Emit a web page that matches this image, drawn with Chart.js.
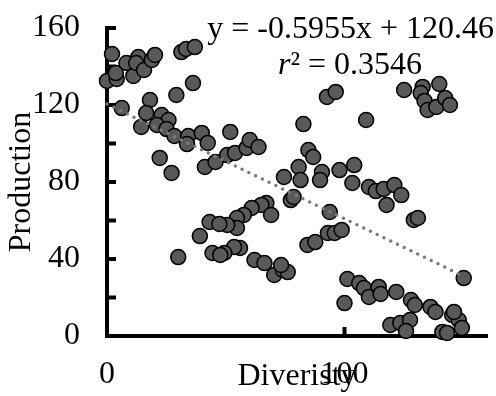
<!DOCTYPE html>
<html>
<head>
<meta charset="utf-8">
<script src="https://cdn.jsdelivr.net/npm/chart.js@4"></script>
<style>
  html, body { margin: 0; background: #fff; }
</style>
</head>
<body>
<canvas id="chart" width="496" height="396"></canvas>
<script>
// Datos
const diversity = [
  2.1, 0.0, 4.1, 3.7, 8.2, 11.1, 13.2, 12.3, 15.6, 18.9,
  20.2, 31.3, 33.3, 37.0, 36.2, 29.2, 18.1, 6.2, 16.5, 14.4,
  23.0, 25.9, 21.0, 25.1, 28.4, 34.2, 33.7, 39.9, 42.4, 22.2,
  27.2, 41.2, 45.7, 50.6, 53.9, 51.9, 58.8, 60.1, 63.8, 82.7,
  92.6, 96.3, 109.1, 125.1, 132.9, 132.1, 139.9, 133.7, 135.0, 138.7,
  142.4, 144.4, 104.1, 84.8, 86.8, 90.5, 97.9, 80.7, 74.5, 81.5,
  89.7, 103.3, 110.3, 113.2, 116.5, 121.0, 123.9, 117.7, 129.2, 130.9,
  150.2, 101.2, 106.2, 108.2, 110.3, 100.0, 114.4, 115.2, 121.8, 128.0,
  129.6, 136.2, 138.3, 145.3, 148.1, 149.4, 119.3, 123.5, 127.6, 125.9,
  141.2, 143.2, 146.1, 77.4, 78.6, 93.8, 84.4, 87.7, 93.0, 95.9,
  98.8, 67.1, 65.0, 60.9, 57.6, 69.1, 54.7, 54.7, 50.6, 56.0,
  53.5, 49.4, 62.1, 66.3, 70.4, 74.1, 76.1, 73.3, 43.2, 47.3,
  39.1, 30.0, 44.4, 47.7,
];
const production = [
  146.5, 132.5, 133.5, 136.6, 141.8, 135.1, 144.9, 141.8, 138.2, 143.4,
  146.0, 147.5, 149.1, 150.1, 131.4, 125.2, 122.6, 118.4, 115.8, 108.6,
  114.8, 112.2, 109.6, 107.5, 103.9, 103.9, 99.7, 105.5, 100.3, 92.5,
  84.7, 87.8, 90.4, 94.0, 95.1, 106.0, 97.7, 101.8, 98.2, 110.1,
  124.2, 126.8, 112.2, 127.8, 129.4, 126.2, 130.9, 122.1, 117.4, 119.0,
  123.6, 120.0, 88.8, 96.6, 93.0, 85.2, 86.2, 87.8, 82.6, 81.0,
  81.0, 79.5, 77.4, 75.3, 76.4, 78.4, 73.2, 68.1, 60.3, 61.3,
  30.1, 29.6, 27.5, 24.9, 20.3, 17.1, 25.5, 21.8, 22.9, 18.7,
  16.1, 15.1, 12.5, 10.9, 8.3, 4.2, 5.7, 6.8, 8.3, 2.6,
  2.1, 1.6, 12.5, 70.6, 72.2, 64.4, 47.3, 48.8, 53.5, 53.5,
  55.1, 69.1, 68.1, 66.5, 62.9, 62.9, 61.3, 56.1, 57.7, 45.7,
  46.2, 43.1, 39.5, 37.9, 31.7, 34.3, 33.2, 36.9, 59.2, 58.2,
  51.9, 41.0, 43.1, 42.1,
];

// Línea de tendencia (y = -0.5955x + 120.46)
const slope = -0.5955;
const intercept = 120.46;
const trendX = [0, 150.2];

const xTicks = [0, 100];
const yTicks = [0, 20, 40, 60, 80, 100, 120, 140, 160];

const font = "'Liberation Serif', 'Times New Roman', serif";
const fontSize = 32;

const points = diversity.map((x, i) => ({ x, y: production[i] }));
const trend = trendX.map((x) => ({ x, y: slope * x + intercept }));

// Marcas hacia dentro y texto de la ecuación
const decor = {
  id: "decor",
  beforeDatasetsDraw(chart) {
    const { ctx, chartArea, scales } = chart;
    ctx.save();
    ctx.strokeStyle = "#000";
    ctx.lineWidth = 4;
    ctx.lineCap = "butt";
    yTicks.forEach((v) => {
      if (v === 0) return;
      const py = scales.y.getPixelForValue(v);
      ctx.beginPath();
      ctx.moveTo(chartArea.left, py);
      ctx.lineTo(chartArea.left + 9, py);
      ctx.stroke();
    });
    xTicks.forEach((v) => {
      if (v === 0) return;
      const px = scales.x.getPixelForValue(v);
      ctx.beginPath();
      ctx.moveTo(px, chartArea.bottom);
      ctx.lineTo(px, chartArea.bottom - 9);
      ctx.stroke();
    });
    ctx.restore();
  },
  afterDraw(chart) {
    const ctx = chart.ctx;
    ctx.save();
    ctx.fillStyle = "#000";
    ctx.textBaseline = "alphabetic";
    ctx.font = fontSize + "px " + font;
    ctx.textAlign = "right";
    ctx.fillText("y = -0.5955x + 120.46", 494, 38);

    // r² con la r en cursiva
    ctx.textAlign = "left";
    ctx.font = "italic " + fontSize + "px " + font;
    const wr = ctx.measureText("r").width;
    ctx.font = fontSize + "px " + font;
    const rest = "² = 0.3546";
    const wRest = ctx.measureText(rest).width;
    const x0 = 350 - (wr + wRest) / 2;
    ctx.font = "italic " + fontSize + "px " + font;
    ctx.fillText("r", x0, 74);
    ctx.font = fontSize + "px " + font;
    ctx.fillText(rest, x0 + wr, 74);
    ctx.restore();
  },
};

const config = {
  type: "scatter",
  data: {
    datasets: [
      {
        type: "line",
        data: trend,
        borderColor: "#7a7a7a",
        borderWidth: 3.5,
        borderDash: [0, 7.5],
        borderCapStyle: "round",
        pointRadius: 0,
        fill: false,
        clip: false,
      },
      {
        data: points,
        backgroundColor: "#595959",
        borderColor: "#000",
        borderWidth: 1.5,
        pointRadius: 7.5,
        clip: false,
      },
    ],
  },
  options: {
    responsive: false,
    animation: false,
    layout: { padding: { top: 28, right: 0, left: 0, bottom: 0 } },
    plugins: {
      legend: { display: false },
      tooltip: { enabled: false },
    },
    scales: {
      x: {
        type: "linear",
        min: 0,
        max: 160,
        grid: { display: false },
        border: { color: "#000", width: 4 },
        ticks: {
          stepSize: 100,
          includeBounds: false,
          color: "#000",
          padding: 11,
          font: { family: font, size: fontSize },
        },
        title: {
          display: true,
          text: "Diveristy",
          color: "#000",
          font: { family: font, size: fontSize },
          padding: { top: 0, bottom: 0 },
        },
        afterFit(scale) {
          scale.height = 60;
          scale.paddingLeft = 0;
          scale.paddingRight = 0;
        },
      },
      y: {
        type: "linear",
        min: 0,
        max: 160,
        grid: { display: false },
        border: { color: "#000", width: 4 },
        ticks: {
          stepSize: 20,
          color: "#000",
          padding: 19,
          font: { family: font, size: fontSize },
        },
        title: {
          display: true,
          text: "Production",
          color: "#000",
          font: { family: font, size: fontSize },
          padding: { top: 2, bottom: 0 },
        },
        afterFit(scale) {
          scale.width = 107;
          scale.paddingTop = 0;
          scale.paddingBottom = 0;
        },
      },
    },
  },
  plugins: [decor],
};

const myChart = new Chart(document.getElementById("chart").getContext("2d"), config);
</script>
</body>
</html>
